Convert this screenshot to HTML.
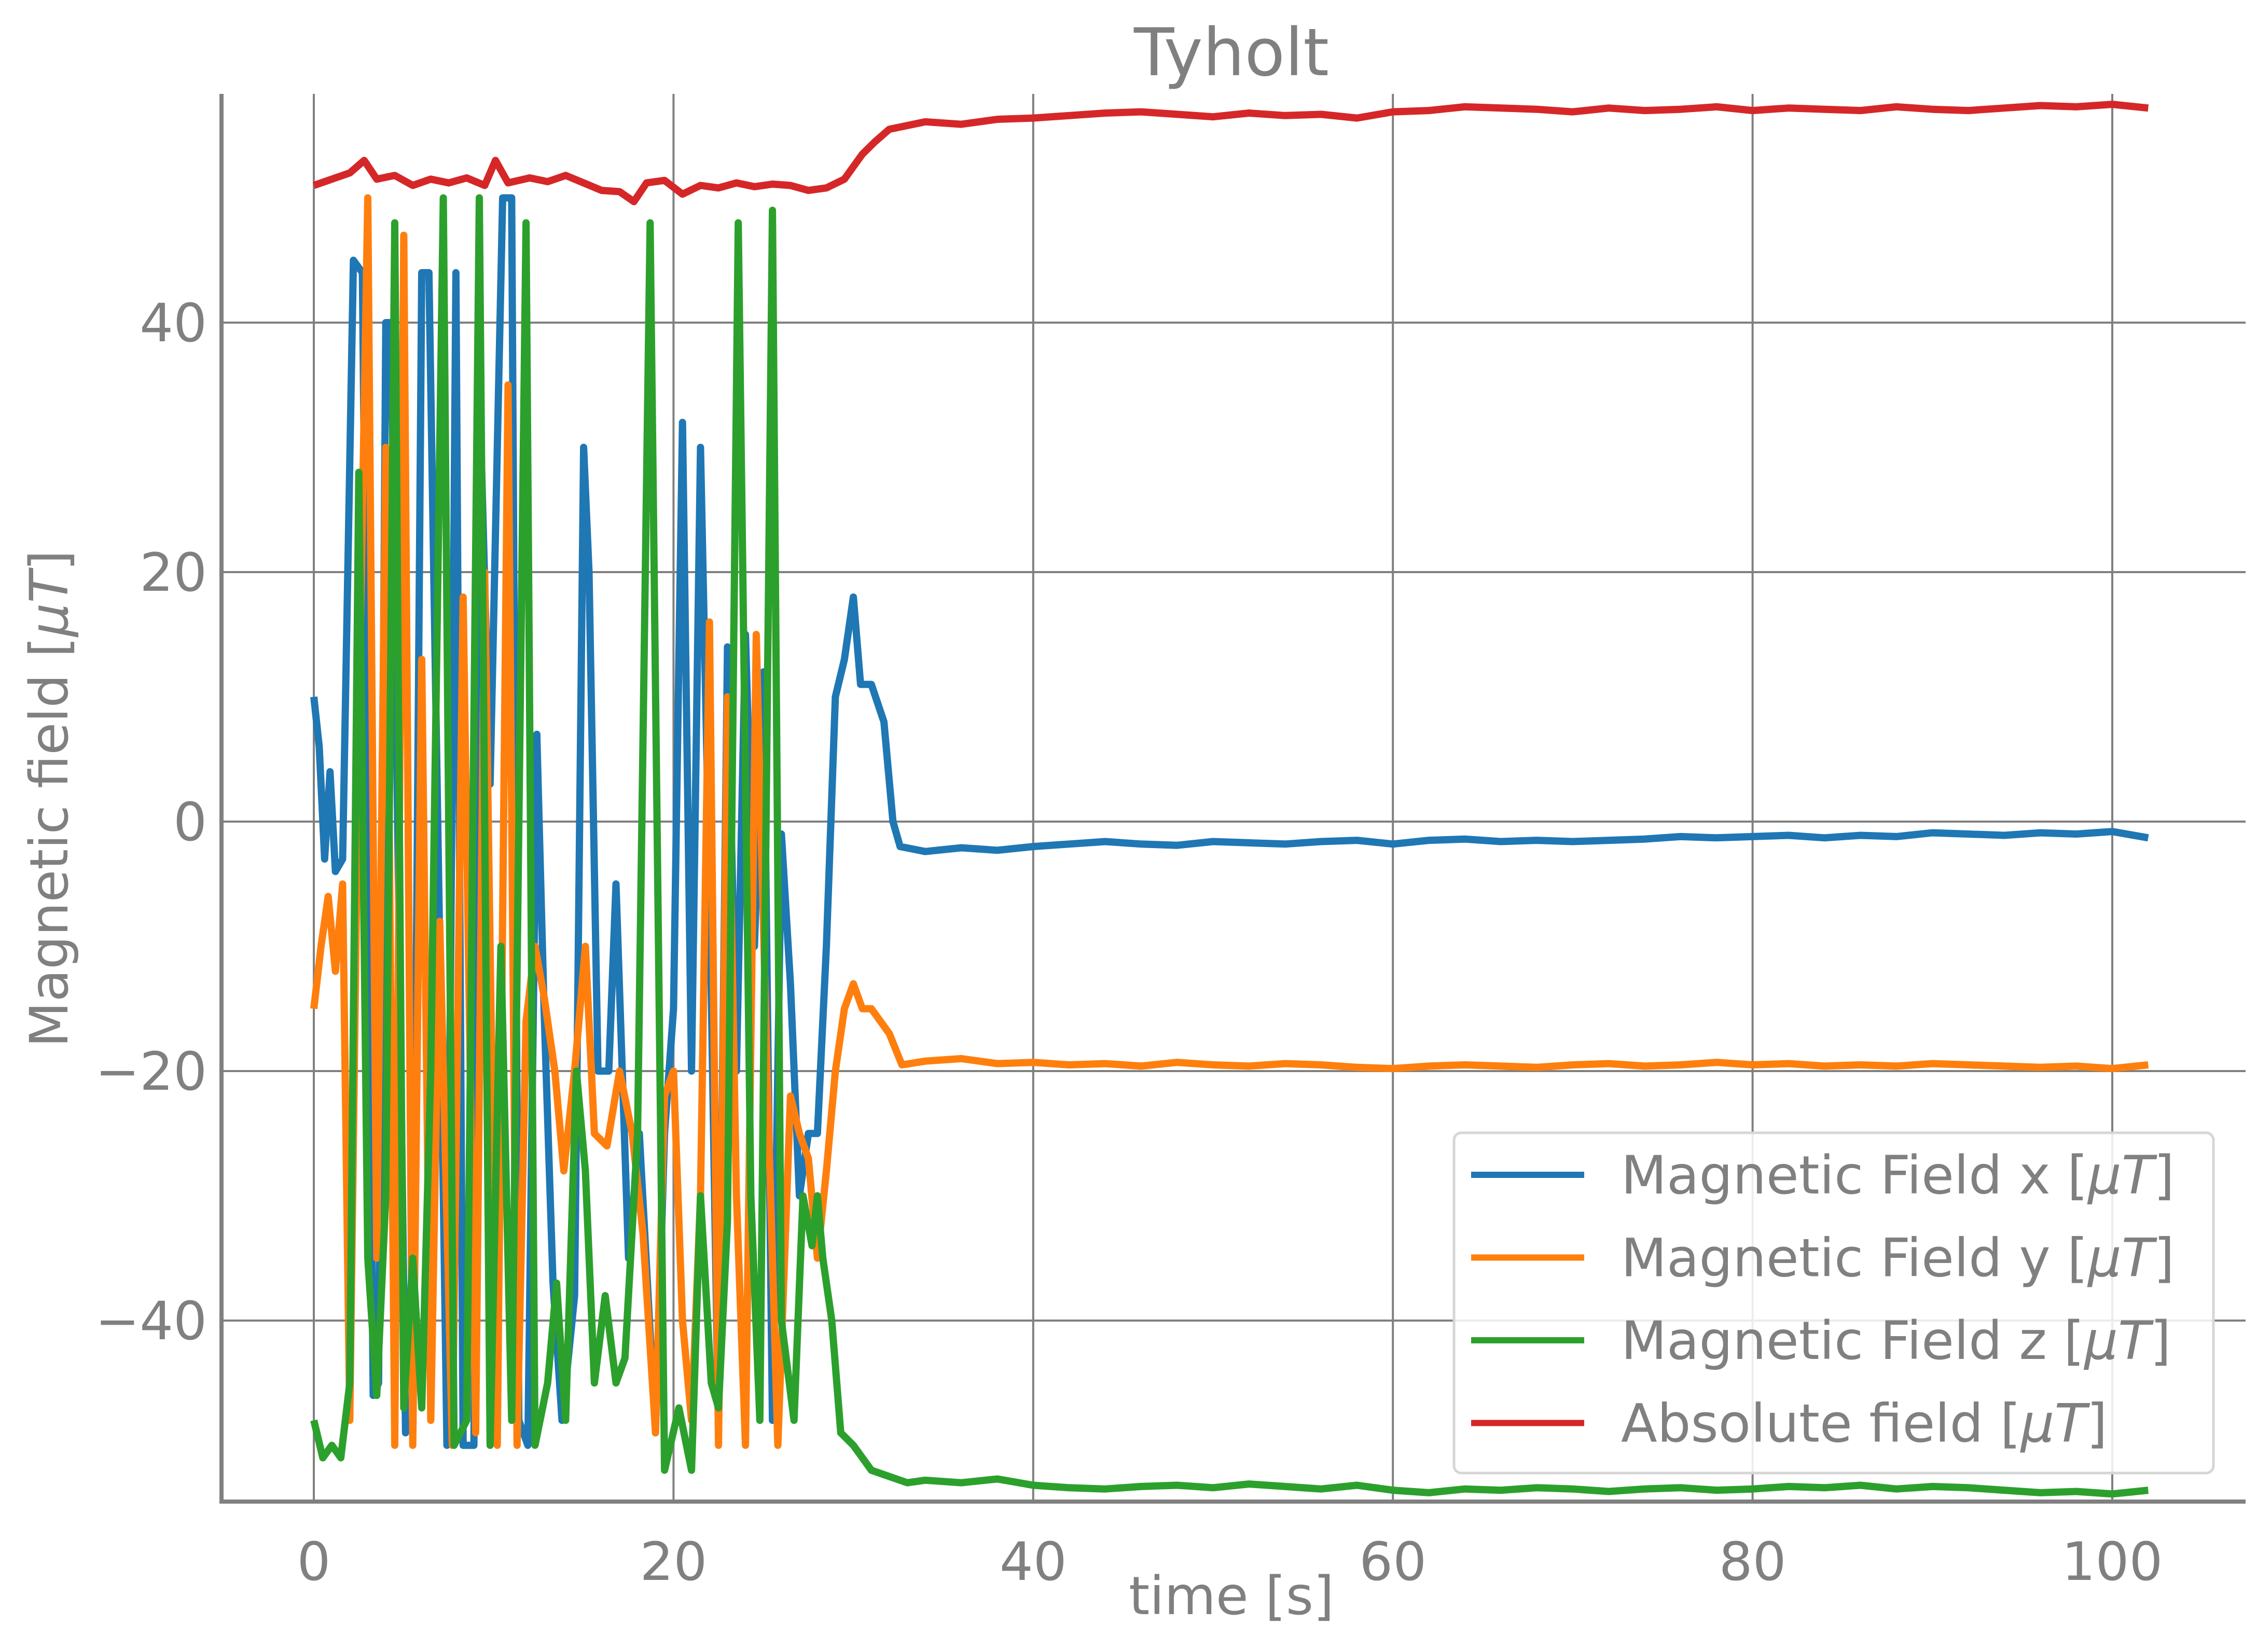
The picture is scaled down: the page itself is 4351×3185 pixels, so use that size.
<!DOCTYPE html>
<html><head><meta charset="utf-8"><style>
html,body{margin:0;padding:0;background:#fff}
svg{display:block}
text{font-family:"DejaVu Sans","Liberation Sans",sans-serif;fill:#808080}
</style></head><body>
<svg id="chart" width="4351" height="3185" viewBox="0 0 4351 3185" xmlns="http://www.w3.org/2000/svg">
<rect width="4351" height="3185" fill="#fff"/>
<g id="grid"></g>
<g id="series"></g>
<g id="axes"></g>
<text x="2374" y="145" font-size="127" text-anchor="middle">Tyholt</text>
<text x="2374" y="3112" font-size="102" text-anchor="middle">time [s]</text>
<text x="130" y="1540" font-size="102" text-anchor="middle" transform="rotate(-90 130 1540)">Magnetic field [<tspan font-style="italic">μT</tspan>]</text>
<g id="legend">
<rect x="2803" y="2184" width="1464" height="656" rx="14" fill="#fff" fill-opacity="0.85" stroke="#d6d6d6" stroke-width="5"/>
</g>
</svg>
<script>
const xTicks=[0,20,40,60,80,100];
const yTicks=[-40,-20,0,20,40];
const seriesNames=["Magnetic Field x","Magnetic Field y","Magnetic Field z","Absolute field"];
const seriesColors=["#1f77b4","#ff7f0e","#2ca02c","#d62728"];
const tailT=[34,36,38,40,42,44,46,48,50,52,54,56,58,60,62,64,66,68,70,72,74,76,78,80,82,84,86,88,90,92,94,96,98,100,102];
const xT=[0,0.3,0.6,0.9,1.2,1.6,2.2,2.7,3.3,3.6,4.0,4.3,5.1,5.5,6.0,6.4,7.0,7.4,7.9,8.3,8.9,9.3,9.8,10.5,11.0,11.4,11.9,12.4,12.8,13.3,13.8,14.5,15.0,15.3,15.8,16.4,16.8,17.5,18.1,19.0,19.5,20.0,20.5,21.0,21.5,22.0,22.5,23.0,23.5,24.0,24.5,25.0,25.5,26.0,26.5,27.0,27.5,28.0,28.5,29.0,29.5,30.0,30.4,31.0,31.7,32.2,32.6];
const xV=[10,6,-3,4,-4,-3,45,44,-46,-45,40,40,-49,-48,44,44,-10,-50,44,-50,-50,30,3,50,50,-48,-50,7,-15,-37,-48,-38,30,20,-20,-20,-5,-35,-25,-49,-25,-15,32,-20,30,-5,-49,14,-20,15,-10,12,-48,-1,-13,-30,-25,-25,-10,10,13,18,11,11,8,0,-2];
const xTail=[-2.4,-2.1,-2.3,-2.0,-1.8,-1.6,-1.8,-1.9,-1.6,-1.7,-1.8,-1.6,-1.5,-1.8,-1.5,-1.4,-1.6,-1.5,-1.6,-1.5,-1.4,-1.2,-1.3,-1.2,-1.1,-1.3,-1.1,-1.2,-0.9,-1.0,-1.1,-0.9,-1.0,-0.8,-1.3];
const yT=[0,0.4,0.8,1.2,1.6,2.0,2.5,3.0,3.5,4.0,4.5,5.0,5.5,6.0,6.5,7.0,7.7,8.3,9.0,9.5,10.2,10.8,11.3,11.8,12.3,12.8,13.4,13.9,14.5,15.1,15.6,16.3,17.0,17.7,18.3,19.0,19.5,20.0,20.5,21.0,21.5,22.0,22.5,23.0,23.5,24.0,24.6,25.2,25.8,26.5,27.0,27.5,28.0,28.5,29.0,29.5,30.0,30.5,31.0,32.0,32.7];
const yV=[-15,-10,-6,-12,-5,-48,8,50,-35,30,-50,47,-50,13,-48,-8,-50,18,-49,20,-50,35,-50,-16,-10,-14,-20,-28,-20,-10,-25,-26,-20,-25,-33,-49,-22,-20,-40,-48,-30,16,-50,10,-30,-50,15,-20,-50,-22,-25,-27,-35,-28,-20,-15,-13,-15,-15,-17,-19.5];
const yTail=[-19.2,-19.0,-19.4,-19.3,-19.5,-19.4,-19.6,-19.3,-19.5,-19.6,-19.4,-19.5,-19.7,-19.8,-19.6,-19.5,-19.6,-19.7,-19.5,-19.4,-19.6,-19.5,-19.3,-19.5,-19.4,-19.6,-19.5,-19.6,-19.4,-19.5,-19.6,-19.7,-19.6,-19.8,-19.5];
const zT=[0,0.5,1.0,1.5,2.0,2.5,3.0,3.5,4.0,4.5,5.0,5.5,6.0,6.5,7.2,7.8,8.5,9.2,9.8,10.4,11.0,11.8,12.3,13.0,13.5,14.0,14.6,15.1,15.6,16.2,16.8,17.3,18.0,18.7,19.5,20.3,21.0,21.5,22.1,22.5,23.0,23.6,24.3,24.8,25.5,26.0,26.7,27.2,27.7,28.0,28.3,28.8,29.3,30.0,31.0,32.0,33.0];
const zV=[-48,-51,-50,-51,-45,28,-35,-46,-30,48,-47,-35,-47,-20,50,-50,-48,50,-50,-10,-48,48,-50,-45,-37,-48,-20,-28,-45,-38,-45,-43,-25,48,-52,-47,-52,-30,-45,-47,-32,48,-30,-48,49,-40,-48,-30,-34,-30,-35,-40,-49,-50,-52,-52.5,-53];
const zTail=[-52.8,-53.0,-52.7,-53.2,-53.4,-53.5,-53.3,-53.2,-53.4,-53.1,-53.3,-53.5,-53.2,-53.6,-53.8,-53.5,-53.6,-53.4,-53.5,-53.7,-53.5,-53.4,-53.6,-53.5,-53.3,-53.4,-53.2,-53.5,-53.3,-53.4,-53.6,-53.8,-53.7,-53.9,-53.6];
const aT=[0,1,2,2.8,3.5,4.5,5.5,6.5,7.5,8.5,9.5,10.1,10.8,12,13,14,15,16,17,17.8,18.5,19.5,20.5,21.5,22.5,23.5,24.5,25.5,26.5,27.5,28.5,29.5,30.5,31.2,32,33];
const aV=[51,51.5,52,53,51.5,51.8,51,51.5,51.2,51.6,51,53,51.2,51.6,51.3,51.8,51.2,50.6,50.5,49.7,51.2,51.4,50.3,51,50.8,51.2,50.9,51.1,51.0,50.6,50.8,51.5,53.5,54.5,55.5,55.8];
const aTail=[56.1,55.9,56.3,56.4,56.6,56.8,56.9,56.7,56.5,56.8,56.6,56.7,56.4,56.9,57.0,57.3,57.2,57.1,56.9,57.2,57.0,57.1,57.3,57.0,57.2,57.1,57.0,57.3,57.1,57.0,57.2,57.4,57.3,57.5,57.2];

const NS="http://www.w3.org/2000/svg";
function X(t){return 605+t*34.67;}
function Y(v){return 1584-v*24.05;}
function mk(tag,attrs,parent){const e=document.createElementNS(NS,tag);for(const k in attrs)e.setAttribute(k,attrs[k]);parent.appendChild(e);return e;}
const grid=document.getElementById('grid'),axes=document.getElementById('axes'),ser=document.getElementById('series'),leg=document.getElementById('legend');
xTicks.forEach(t=>{
  const l=mk('line',{x1:X(t),x2:X(t),y1:181,y2:2895,stroke:'#808080','stroke-width':4},grid);
  
  
  const tx=mk('text',{x:X(t),y:3046,'font-size':102,'text-anchor':'middle'},axes);
  
  
  tx.textContent=String(t);
});
yTicks.forEach(v=>{
  const l=mk('line',{x1:427,x2:4329,y1:Y(v),y2:Y(v),stroke:'#808080','stroke-width':4},grid);
  
  
  const tx=mk('text',{x:399,y:Y(v)+36,'font-size':102,'text-anchor':'end'},axes);
  
  
  tx.textContent=v<0?'\u2212'+Math.abs(v):String(v);
});
const ls=mk('line',{x1:427,x2:427,y1:181,y2:2899,stroke:'#808080','stroke-width':8},axes);


const bs=mk('line',{x1:423,x2:4329,y1:2895,y2:2895,stroke:'#808080','stroke-width':8},axes);


const allT=[xT,yT,zT,aT],allV=[xV,yV,zV,aV],tails=[xTail,yTail,zTail,aTail];
[0,1,2,3].forEach(i=>{
  const ts=allT[i].concat(tailT),vs=allV[i].concat(tails[i]);
  let d='';
  ts.forEach((t,k)=>{d+=(k?'L':'M')+X(t).toFixed(1)+','+Y(vs[k]).toFixed(1);});
  const p=mk('path',{d:d,fill:'none',stroke:seriesColors[i],'stroke-width':14,'stroke-linejoin':'round'},ser);
  
  
  const ry=2265+i*159.5;
  const ll=mk('line',{x1:2836,x2:3054,y1:ry,y2:ry,stroke:seriesColors[i],'stroke-width':12},leg);
  
  
  const lt=mk('text',{x:3125,y:ry+36,'font-size':102},leg);
  
  
  lt.textContent=seriesNames[i]+' [';
  const ts2=mk('tspan',{'font-style':'italic'},lt);ts2.textContent='μT';
  lt.appendChild(document.createTextNode(']'));
});
</script>
</body></html>
